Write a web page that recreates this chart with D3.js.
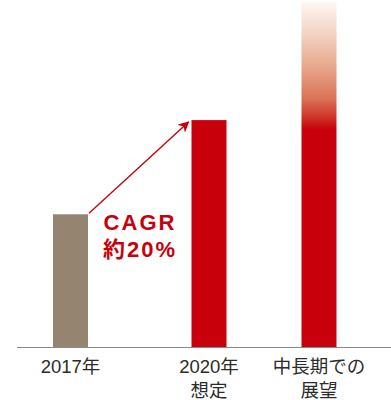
<!DOCTYPE html>
<html>
<head>
<meta charset="utf-8">
<script src="https://cdn.jsdelivr.net/npm/d3@7"></script>
<style>
  html, body { margin: 0; padding: 0; background: #fff; }
</style>
</head>
<body>
<div id="chart"></div>
<script>
// Chart data
var categories = ["2017年", "2020年", "中長期での展望"];
var labelLines = [["2017年"], ["2020年", "想定"], ["中長期での", "展望"]];
var values = [100, 171, 260];
var cagrText = ["CAGR", "約20%"];

// Global parameters
var width = 391;
var height = 400;
var baseline = 347;
var barWidth = 35;
var colors = ["#958570", "#c8000b", "#c8000b"];
var textColor = "#2b2b2b";
var fontFamily = "'Liberation Sans', 'Noto Sans CJK JP', sans-serif";

var svg = d3.select("#chart")
            .append("svg")
            .attr("width", width)
            .attr("height", height);

// Scales
var xScale = d3.scaleOrdinal()
               .domain(categories)
               .range([70.5, 209, 319]);

var yScale = d3.scaleLinear()
               .domain([0, 260])
               .range([baseline, 2]);

// Fading gradient for the long-term bar
var defs = svg.append("defs");
var grad = defs.append("linearGradient")
               .attr("id", "fade")
               .attr("x1", 0).attr("y1", 0)
               .attr("x2", 0).attr("y2", 1);
var stops = [[0, "#fdf7f3"], [0.1, "#f2d0bf"], [0.2, "#e6a186"], [0.28, "#da7257"], [0.33, "#cf3a2c"], [0.37, "#c8000b"], [1, "#c8000b"]];
grad.selectAll("stop").data(stops).enter()
    .append("stop")
    .attr("offset", (d) => d[0])
    .attr("stop-color", (d) => d[1]);

// Arrow head marker
defs.append("marker")
    .attr("id", "arrow")
    .attr("viewBox", "0 0 10 10")
    .attr("refX", 9).attr("refY", 5)
    .attr("markerUnits", "userSpaceOnUse")
    .attr("markerWidth", 11).attr("markerHeight", 11)
    .attr("orient", "auto")
    .append("path")
    .attr("d", "M0,0 L10,5 L0,10 L3,5 Z")
    .attr("fill", colors[1]);

// Bars
svg.selectAll(".bar")
   .data(values)
   .enter()
   .append("rect")
   .attr("class", "bar")
   .attr("x", (d, i) => xScale(categories[i]) - barWidth / 2)
   .attr("y", (d) => yScale(d))
   .attr("width", barWidth)
   .attr("height", (d) => baseline - yScale(d))
   .attr("fill", (d, i) => i == 2 ? "url(#fade)" : colors[i]);

// Baseline
svg.append("line")
   .attr("x1", 17).attr("x2", width)
   .attr("y1", baseline + 0.5).attr("y2", baseline + 0.5)
   .attr("stroke", "#8a8a8a")
   .attr("stroke-width", 1);

// Growth arrow from the 2017 bar to the 2020 bar
svg.append("line")
   .attr("x1", xScale(categories[0]) + barWidth / 2 + 1)
   .attr("y1", yScale(values[0]) - 1)
   .attr("x2", xScale(categories[1]) - barWidth / 2 - 3)
   .attr("y2", yScale(values[1]) + 2)
   .attr("stroke", colors[1])
   .attr("stroke-width", 1.4)
   .attr("marker-end", "url(#arrow)");

// CAGR label
svg.selectAll(".cagr")
   .data(cagrText)
   .enter()
   .append("text")
   .attr("class", "cagr")
   .attr("x", 140)
   .attr("y", (d, i) => 230 + i * 27)
   .attr("text-anchor", "middle")
   .attr("font-family", fontFamily)
   .attr("font-weight", "bold")
   .attr("font-size", 22)
   .attr("letter-spacing", 2)
   .attr("fill", colors[1])
   .text((d) => d);

// Category labels
var labels = svg.selectAll(".label")
                .data(labelLines)
                .enter()
                .append("text")
                .attr("class", "label")
                .attr("text-anchor", "middle")
                .attr("font-family", fontFamily)
                .attr("font-size", 18.5)
                .attr("fill", textColor);

labels.selectAll("tspan")
      .data((d, i) => d.map((t) => ({text: t, x: xScale(categories[i])})))
      .enter()
      .append("tspan")
      .attr("x", (d) => d.x)
      .attr("y", (d, j) => 373 + j * 24)
      .text((d) => d.text);
</script>
</body>
</html>
